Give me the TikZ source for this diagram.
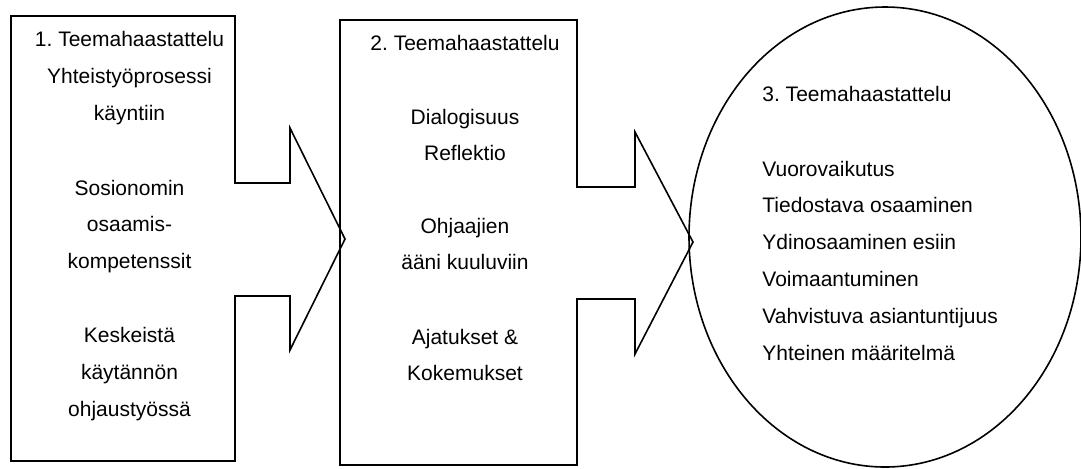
\documentclass[tikz,border=0pt]{standalone}
\usepackage{fontspec}
\setmainfont{Liberation Sans}
\usetikzlibrary{shapes.geometric}
\frenchspacing
\tikzset{
  outline/.style={draw=black, line width=0.8pt, line join=miter},
  teema/.style={align=center, font=\fontsize{10.5}{18.4}\selectfont,
    inner sep=0pt, anchor=base},
  teemalist/.style={teema, align=left, anchor=base west},
}

\begin{document}
\begin{tikzpicture}[x=0.5pt, y=-0.5pt]
  \useasboundingbox (0,0) rectangle (1081,468);

  % box with arrow, first interview
  \draw[outline] (11,16) -- (235,16) -- (235,183) -- (290,183) -- (290,128)
    -- (345,239) -- (290,350) -- (290,296) -- (235,296) -- (235,461)
    -- (11,461) -- cycle;
  % box with arrow, second interview
  \draw[outline] (340,20) -- (577,20) -- (577,187) -- (635,187) -- (635,132)
    -- (693,242) -- (635,354) -- (635,299) -- (577,299) -- (577,465)
    -- (340,465) -- cycle;
  % third interview
  \node[outline, ellipse, inner sep=0pt, minimum width=196pt,
    minimum height=230pt] (kolmas) at (885,237) {};

  % base = last line of each node
  \node[teema] (yksiA) at (129.5,120.3)
    {1. Teemahaastattelu\\Yhteistyöprosessi\\käyntiin};
  \node[teema] (yksiB) at (129.5,268.6) {Sosionomin\\osaamis-\\kompetenssit};
  \node[teema] (yksiC) at (129.5,416.3) {Keskeistä\\käytännön\\ohjaustyössä};

  \node[teema] (kaksiA) at (465,50) {2. Teemahaastattelu};
  \node[teema] (kaksiB) at (465,160.8) {Dialogisuus\\Reflektio};
  \node[teema] (kaksiC) at (465,269.8) {Ohjaajien\\ääni kuuluviin};
  \node[teema] (kaksiD) at (465,380.8) {Ajatukset \&\\Kokemukset};

  \node[teemalist] (kolmeA) at (762,101.7) {3. Teemahaastattelu};
  \node[teemalist] (kolmeB) at (762,360)
    {Vuorovaikutus\\Tiedostava osaaminen\\Ydinosaaminen esiin\\Voimaantuminen\\Vahvistuva asiantuntijuus\\Yhteinen määritelmä};
\end{tikzpicture}
\end{document}
